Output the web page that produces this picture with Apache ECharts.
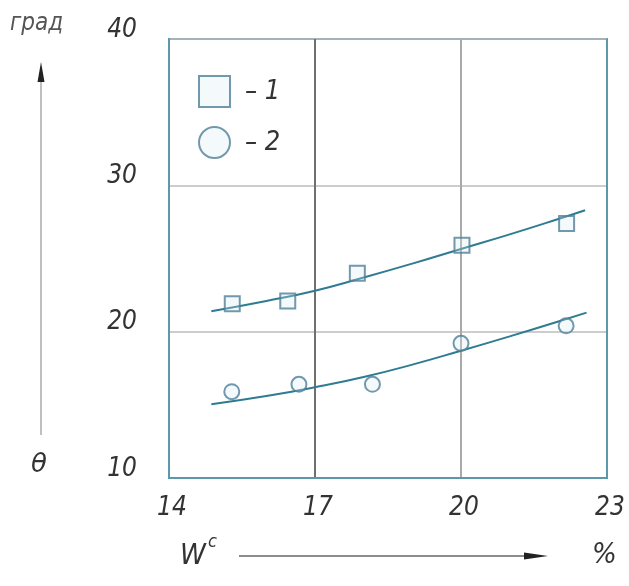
<!DOCTYPE html>
<html>
<head>
<meta charset="utf-8">
<script src="https://cdn.jsdelivr.net/npm/echarts@6/dist/echarts.min.js"></script>
<style>
  html, body { margin: 0; padding: 0; background: #fff; }
  #chart { width: 629px; height: 586px; }
</style>
</head>
<body>
<div id="chart"></div>
<script>
// Contact angle θ (град) versus moisture W^c (%)
const xTicks = [14, 17, 20, 23];
const yTicks = [10, 20, 30, 40];

// Measured points, series 1 (squares)
const w1 = [15.30, 16.44, 17.87, 20.02, 22.17];
const theta1 = [21.9, 22.1, 24.0, 25.9, 27.4];

// Measured points, series 2 (circles)
const w2 = [15.29, 16.67, 18.18, 20.00, 22.16];
const theta2 = [15.9, 16.4, 16.4, 19.2, 20.4];

// Fitted trend curves
const fitW1 = [14.87, 16, 17, 18, 19, 20, 21, 22, 22.55];
const fitTheta1 = [21.4, 22.1, 22.8, 23.7, 24.65, 25.65, 26.65, 27.7, 28.3];
const fitW2 = [14.87, 16, 17, 18, 19, 20, 21, 22, 22.58];
const fitTheta2 = [15.04, 15.6, 16.2, 16.9, 17.75, 18.7, 19.68, 20.7, 21.3];

const zip = (a, b) => a.map((v, i) => [v, b[i]]);

const FONT = '"Liberation Sans Narrow", "DejaVu Sans Condensed", "Liberation Sans", sans-serif';
const TEXT = '#333';
const TEAL = '#5a98aa';
const CURVE = '#2f7b92';
const MARK = '#4f7f98';

const chart = echarts.init(document.getElementById('chart'), null, { renderer: 'canvas' });

chart.setOption({
  animation: false,
  backgroundColor: '#fff',
  grid: {
    left: 169, top: 39, width: 438, height: 439,
    show: true, borderColor: TEAL, borderWidth: 2, backgroundColor: 'transparent'
  },
  legend: {
    data: ['1', '2'],
    orient: 'vertical',
    left: 193, top: 70,
    itemWidth: 31, itemHeight: 31, itemGap: 18,
    formatter: n => '\u2013 ' + n,
    textStyle: { fontFamily: FONT, fontStyle: 'italic', fontSize: 27, color: TEXT, padding: [0, 0, 0, 10] },
    selectedMode: false
  },
  xAxis: {
    type: 'value', min: 14, max: 23, interval: 3,
    axisLine: { show: true, lineStyle: { color: TEAL, width: 2 } },
    axisTick: { show: false },
    axisLabel: {
      margin: 17, fontFamily: FONT, fontStyle: 'italic', fontSize: 26, color: TEXT,
      padding: [0, 0, 0, 6],
      formatter: v => xTicks.includes(v) ? String(v) : ''
    },
    splitLine: { show: true, lineStyle: { color: [TEAL, '#6f6f6f', '#a9a9a9', TEAL], width: 2 } }
  },
  yAxis: {
    type: 'value', min: 10, max: 40, interval: 10,
    axisLine: { show: true, lineStyle: { color: TEAL, width: 2 } },
    axisTick: { show: false },
    axisLabel: {
      margin: 32, fontFamily: FONT, fontStyle: 'italic', fontSize: 26, color: TEXT,
      verticalAlign: 'bottom', lineHeight: 18,
      formatter: v => yTicks.includes(v) ? String(v) : ''
    },
    splitLine: { show: true, lineStyle: { color: '#bdbdbd', width: 1.5 } }
  },
  series: [
    {
      name: 'fit1', type: 'line', data: zip(fitW1, fitTheta1), smooth: true,
      showSymbol: false, silent: true,
      lineStyle: { color: CURVE, width: 2 }, z: 2
    },
    {
      name: 'fit2', type: 'line', data: zip(fitW2, fitTheta2), smooth: true,
      showSymbol: false, silent: true,
      lineStyle: { color: CURVE, width: 2 }, z: 2
    },
    {
      name: '1', type: 'scatter', data: zip(w1, theta1),
      symbol: 'rect', symbolSize: 15,
      itemStyle: { color: 'rgba(215,235,242,0.35)', borderColor: MARK, borderWidth: 2 }, z: 3
    },
    {
      name: '2', type: 'scatter', data: zip(w2, theta2),
      symbol: 'circle', symbolSize: 15,
      itemStyle: { color: 'rgba(215,235,242,0.35)', borderColor: MARK, borderWidth: 2 }, z: 3
    }
  ],
  graphic: [
    // θ axis title with upward arrow
    { type: 'text', left: 10, top: 12, style: { text: 'град', fontFamily: FONT, fontStyle: 'italic', fontSize: 24, fill: '#555' } },
    { type: 'line', shape: { x1: 41, y1: 80, x2: 41, y2: 435 }, style: { stroke: '#aaa', lineWidth: 1.5 } },
    { type: 'polygon', shape: { points: [[41, 62], [37.5, 82], [44.5, 82]] }, style: { fill: '#222' } },
    { type: 'text', left: 31, top: 452, style: { text: 'θ', fontFamily: '"DejaVu Sans", sans-serif', fontStyle: 'italic', fontSize: 26, fill: TEXT } },
    // W^c axis title with rightward arrow
    { type: 'text', left: 180, top: 542, style: { text: 'W', fontFamily: FONT, fontStyle: 'italic', fontSize: 29, fill: TEXT } },
    { type: 'text', left: 208, top: 533, style: { text: 'c', fontFamily: FONT, fontStyle: 'italic', fontSize: 18, fill: TEXT } },
    { type: 'line', shape: { x1: 239, y1: 556, x2: 528, y2: 556 }, style: { stroke: '#666', lineWidth: 1.5 } },
    { type: 'polygon', shape: { points: [[548, 556], [524, 552.5], [524, 559.5]] }, style: { fill: '#222' } },
    { type: 'text', left: 592, top: 541, style: { text: '%', fontFamily: FONT, fontStyle: 'italic', fontSize: 29, fill: TEXT } }
  ]
});
</script>
</body>
</html>
